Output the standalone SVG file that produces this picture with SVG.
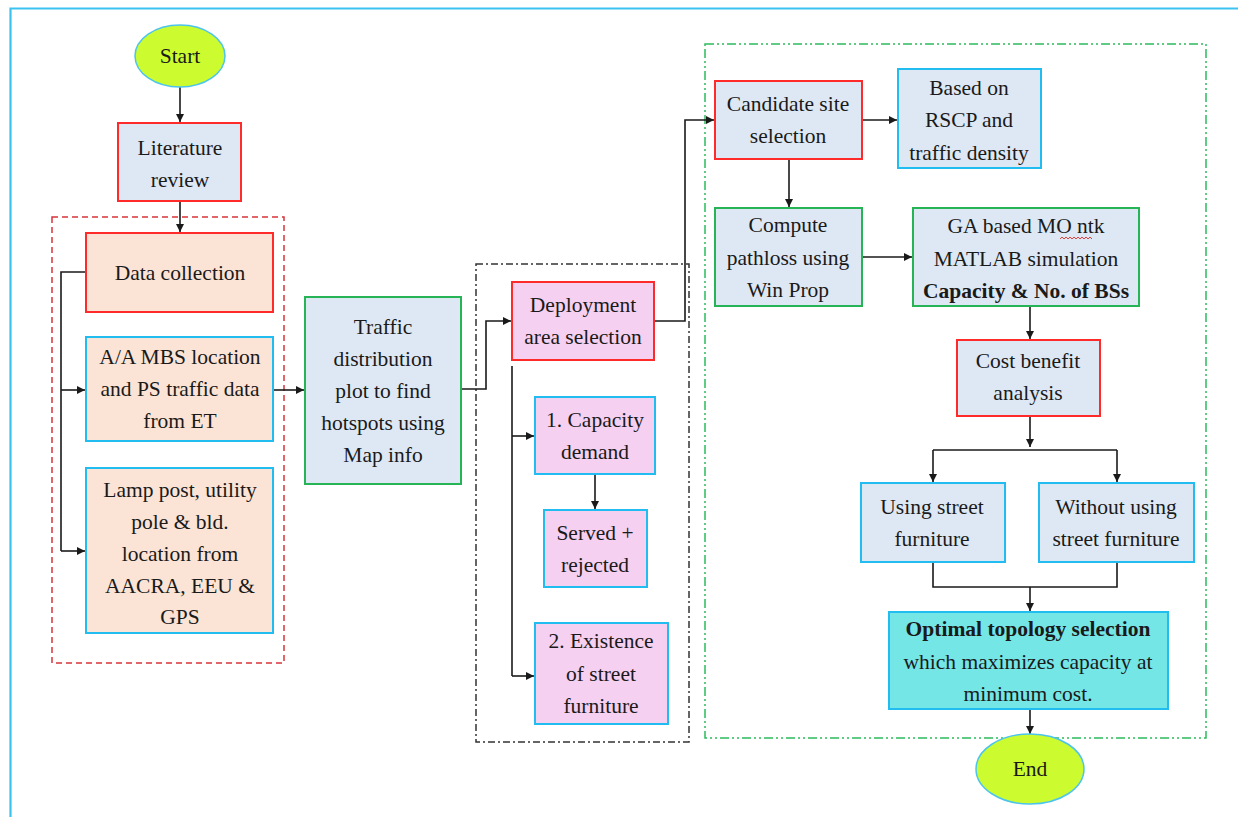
<svg xmlns="http://www.w3.org/2000/svg" width="1238" height="817" viewBox="0 0 1238 817">
  <defs>
    <marker id="arrow" viewBox="0 0 10 10" refX="10" refY="5" markerWidth="8" markerHeight="8" markerUnits="userSpaceOnUse" orient="auto">
      <path d="M0,0 L10,5 L0,10 z" fill="#1a1a1a"/>
    </marker>
    <style>
      text { font-family: "Liberation Serif", "DejaVu Serif", serif; font-size: 21.5px; fill: #1a1a1a; text-anchor: middle; }
      .b { font-weight: bold; }
      .term { fill: #ccfc30; stroke: #4cc4ec; stroke-width: 1.5; }
      .box { stroke-width: 2; }
      .blue { fill: #dee8f4; }
      .peach { fill: #fbe4d6; }
      .pink { fill: #f6d0f1; }
      .cyan { fill: #74e6e6; }
      .sr { stroke: #ff2a2a; }
      .sb { stroke: #22bdf0; }
      .sg { stroke: #26b457; }
      .wire { fill: none; stroke: #1a1a1a; stroke-width: 1.6; }
      .arr { marker-end: url(#arrow); }
    </style>
  </defs>

  <!-- page frame -->
  <path d="M10.5,817 V8.5 H1238" fill="none" stroke="#3cc2ef" stroke-width="2.2"/>

  <!-- grouping frames -->
  <g id="frames">
    <rect x="52" y="217" width="232" height="446" fill="none" stroke="#d8343a" stroke-width="1.5" stroke-dasharray="6 4"/>
    <rect x="476" y="264" width="213" height="478" fill="none" stroke="#333" stroke-width="1.5" stroke-dasharray="7 3 2 3"/>
    <rect x="705" y="44" width="501" height="694" fill="none" stroke="#2dbb5e" stroke-width="1.5" stroke-dasharray="9 3 2 3 2 3"/>
  </g>

  <!-- connectors -->
  <g id="connectors">
    <path class="wire arr" d="M180,87 V122"/>
    <path class="wire arr" d="M180,201 V232"/>
    <path class="wire" d="M86,272 H61 V551"/>
    <path class="wire arr" d="M61,390 H85"/>
    <path class="wire arr" d="M61,551 H85"/>
    <path class="wire arr" d="M273,390 H304"/>
    <path class="wire arr" d="M461,389 H486 V321 H511"/>
    <path class="wire arr" d="M654,321 H685 V120 H714"/>
    <path class="wire" d="M512,366 V676"/>
    <path class="wire arr" d="M512,436 H534"/>
    <path class="wire arr" d="M512,676 H534"/>
    <path class="wire arr" d="M595,474 V509"/>
    <path class="wire arr" d="M862,120 H897"/>
    <path class="wire arr" d="M789,159 V207"/>
    <path class="wire arr" d="M862,257 H912"/>
    <path class="wire arr" d="M1030,306 V339"/>
    <path class="wire arr" d="M1030,416 V447"/>
    <path class="wire" d="M933,450 H1117"/>
    <path class="wire arr" d="M933,450 V482"/>
    <path class="wire arr" d="M1117,450 V482"/>
    <path class="wire" d="M933,562 V587 H1117 V562"/>
    <path class="wire arr" d="M1030,587 V611"/>
    <path class="wire arr" d="M1030,709 V734"/>
  </g>

  <g id="start">
    <ellipse class="term" cx="180" cy="56" rx="45" ry="31"/>
    <text x="180" y="63">Start</text>
  </g>

  <g id="literature">
    <rect class="box blue sr" x="118" y="123" width="123" height="78"/>
    <text x="180" y="155">Literature</text>
    <text x="180" y="187">review</text>
  </g>

  <g id="data-collection">
    <rect class="box peach sr" x="86" y="233" width="187" height="79"/>
    <text x="180" y="280">Data collection</text>
  </g>

  <g id="mbs-data">
    <rect class="box peach sb" x="86" y="337" width="187" height="104"/>
    <text x="180" y="364">A/A MBS location</text>
    <text x="180" y="396">and PS traffic data</text>
    <text x="180" y="428">from ET</text>
  </g>

  <g id="street-data">
    <rect class="box peach sb" x="86" y="468" width="187" height="165"/>
    <text x="180" y="497">Lamp post, utility</text>
    <text x="180" y="529">pole &amp; bld.</text>
    <text x="180" y="561">location from</text>
    <text x="180" y="593">AACRA, EEU &amp;</text>
    <text x="180" y="624">GPS</text>
  </g>

  <g id="traffic">
    <rect class="box blue sg" x="305" y="297" width="156" height="187"/>
    <text x="383" y="334">Traffic</text>
    <text x="383" y="366">distribution</text>
    <text x="383" y="398">plot to find</text>
    <text x="383" y="430">hotspots using</text>
    <text x="383" y="462">Map info</text>
  </g>

  <g id="deployment">
    <rect class="box pink sr" x="512" y="282" width="142" height="78"/>
    <text x="583" y="312">Deployment</text>
    <text x="583" y="344">area selection</text>
  </g>

  <g id="capacity">
    <rect class="box pink sb" x="535" y="397" width="120" height="77"/>
    <text x="595" y="427">1. Capacity</text>
    <text x="595" y="459">demand</text>
  </g>

  <g id="served">
    <rect class="box pink sb" x="544" y="510" width="103" height="77"/>
    <text x="595" y="540">Served +</text>
    <text x="595" y="572">rejected</text>
  </g>

  <g id="existence">
    <rect class="box pink sb" x="535" y="623" width="133" height="101"/>
    <text x="601" y="648">2. Existence</text>
    <text x="601" y="681">of street</text>
    <text x="601" y="713">furniture</text>
  </g>

  <g id="candidate">
    <rect class="box blue sr" x="715" y="81" width="147" height="78"/>
    <text x="788" y="111">Candidate site</text>
    <text x="788" y="143">selection</text>
  </g>

  <g id="based-on">
    <rect class="box blue sb" x="898" y="69" width="143" height="99"/>
    <text x="969" y="95">Based on</text>
    <text x="969" y="127">RSCP and</text>
    <text x="969" y="160">traffic density</text>
  </g>

  <g id="pathloss">
    <rect class="box blue sg" x="715" y="208" width="147" height="98"/>
    <text x="788" y="232">Compute</text>
    <text x="788" y="265">pathloss using</text>
    <text x="788" y="297">Win Prop</text>
  </g>

  <g id="ga-sim">
    <rect class="box blue sg" x="913" y="208" width="226" height="98"/>
    <text x="1026" y="233">GA based MO ntk</text>
    <path d="M1060,239 l2,-2 l2,2 l2,-2 l2,2 l2,-2 l2,2 l2,-2 l2,2 l2,-2 l2,2 l2,-2 l2,2 l2,-2 l2,2 l2,-2 l2,2" fill="none" stroke="#e0302a" stroke-width="0.9"/>
    <text x="1026" y="266">MATLAB simulation</text>
    <text class="b" x="1026" y="298">Capacity &amp; No. of BSs</text>
  </g>

  <g id="cost-benefit">
    <rect class="box blue sr" x="957" y="340" width="143" height="76"/>
    <text x="1028" y="368">Cost benefit</text>
    <text x="1028" y="400">analysis</text>
  </g>

  <g id="using">
    <rect class="box blue sb" x="861" y="483" width="144" height="79"/>
    <text x="932" y="514">Using street</text>
    <text x="932" y="546">furniture</text>
  </g>

  <g id="without">
    <rect class="box blue sb" x="1039" y="483" width="155" height="79"/>
    <text x="1116" y="514">Without using</text>
    <text x="1116" y="546">street furniture</text>
  </g>

  <g id="optimal">
    <rect class="box cyan sb" x="889" y="612" width="279" height="97"/>
    <text class="b" x="1028" y="636">Optimal topology selection</text>
    <text x="1028" y="669">which maximizes capacity at</text>
    <text x="1028" y="701">minimum cost.</text>
  </g>

  <g id="end">
    <ellipse class="term" cx="1030" cy="769" rx="54" ry="35"/>
    <text x="1030" y="776">End</text>
  </g>
</svg>
